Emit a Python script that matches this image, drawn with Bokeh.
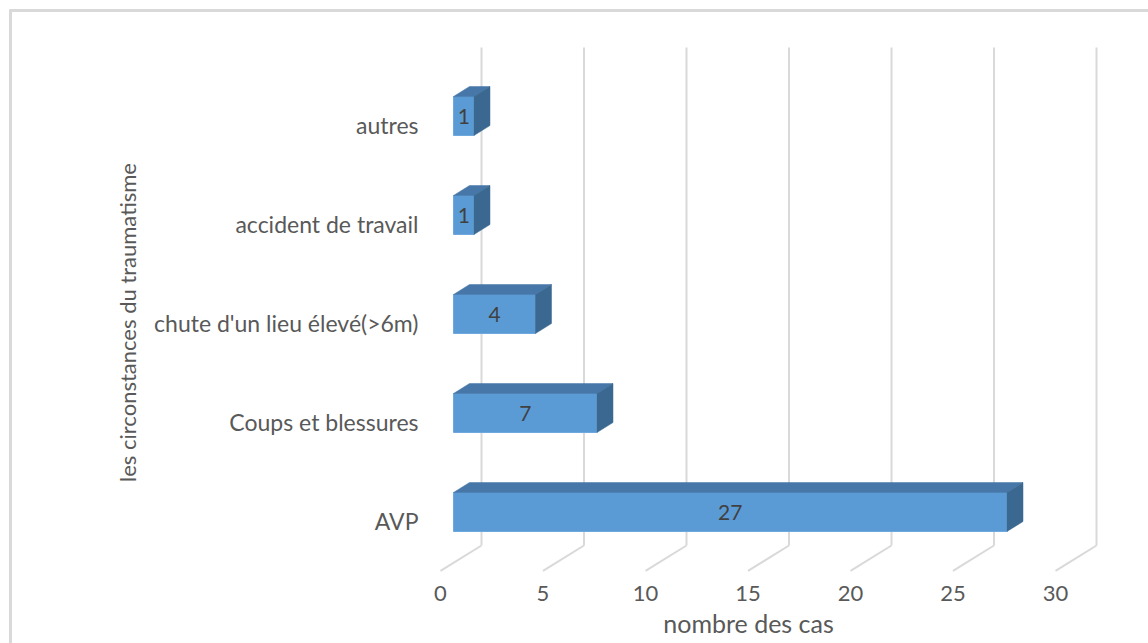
from bokeh.plotting import figure
from bokeh.models import Range1d, ColumnDataSource
from bokeh.core.properties import value
from bokeh.embed import file_html
from bokeh.resources import INLINE
import math

# --- data -------------------------------------------------------------
categories = ["AVP", "Coups et blessures", "chute d'un lieu élevé(>6m)",
              "accident de travail", "autres"]
counts = [27, 7, 4, 1, 1]
tick_values = [0, 5, 10, 15, 20, 25, 30]
tick_labels = ["0", "5", "10", "15", "20", "25", "30"]
x_title = "nombre des cas"
y_title = "les circonstances du traumatisme"

# --- geometry of the pseudo-3D drawing --------------------------------
W, H = 1148, 643
X0 = 453.0          # screen x of value 0 on the bars' front plane
PPU = 20.5          # pixels per count
YC0 = 511.5         # screen y of the first category centre
PPC = 99.0          # pixels between categories

def sx(px):  # screen x -> data x
    return (px - X0) / PPU

def sy(py):  # screen y -> data y
    return (YC0 - py) / PPC

def dxp(px):  # horizontal pixel offset in data units
    return px / PPU

def dyp(py):  # vertical pixel offset (upwards) in data units
    return py / PPC

BAR_HALF = dyp(19.5)
BAR_DX, BAR_DY = dxp(16), dyp(10)       # bar depth
BACK_DX = dxp(28)                       # back wall offset
FLOOR_DX, FLOOR_DY = dxp(-13), dyp(-8)  # front edge of floor
WALL_TOP, WALL_BOT = sy(47), sy(545)

FONT = value("Lato")

p = figure(width=W, height=H, output_backend="svg", toolbar_location=None,
           x_range=Range1d(sx(0), sx(W)), y_range=Range1d(sy(H), sy(0)),
           min_border=0, min_border_left=0, min_border_right=0,
           min_border_top=0, min_border_bottom=0)
p.axis.visible = False
p.grid.visible = False
p.outline_line_color = None
p.background_fill_color = "white"
p.border_fill_color = "white"

# chart area border (left and top edges)
p.line([sx(10), sx(10)], [sy(9), sy(H)], line_color="#d9d9d9", line_width=3)
p.line([sx(9), sx(W)], [sy(10), sy(10)], line_color="#d9d9d9", line_width=3)

# back wall gridlines and floor lines
grid_color = "#d9d9d9"
bx = [v + BACK_DX for v in tick_values]
p.segment(x0=bx, y0=[WALL_BOT] * len(bx), x1=bx, y1=[WALL_TOP] * len(bx),
          line_color=grid_color, line_width=2)
p.segment(x0=bx, y0=[WALL_BOT] * len(bx),
          x1=[v + FLOOR_DX for v in tick_values],
          y1=[WALL_BOT + FLOOR_DY - dyp(17.4)] * len(bx),
          line_color=grid_color, line_width=2)

# bars
ys = list(range(len(categories)))
front = ColumnDataSource(dict(y=ys, right=counts))
p.hbar(y="y", left=0, right="right", height=2 * BAR_HALF, source=front,
       fill_color="#5b9bd5", line_color="#6ea8dc", line_width=1)

top_xs, top_ys, side_xs, side_ys = [], [], [], []
for i, v in zip(ys, counts):
    t, b = i + BAR_HALF, i - BAR_HALF
    top_xs.append([0, v, v + BAR_DX, BAR_DX])
    top_ys.append([t, t, t + BAR_DY, t + BAR_DY])
    side_xs.append([v, v, v + BAR_DX, v + BAR_DX])
    side_ys.append([b, t, t + BAR_DY, b + BAR_DY])
p.patches(top_xs, top_ys, fill_color="#4677a8", line_color="#4677a8", line_width=0.5)
p.patches(side_xs, side_ys, fill_color="#3b6890", line_color="#3b6890", line_width=0.5)

# value labels on the bar fronts
p.text(x=[v / 2 for v in counts], y=ys, text=[str(v) for v in counts],
       text_font=FONT, text_font_size="21px", text_color="#404040",
       text_align="center", text_baseline="middle")

# category labels
p.text(x=[sx(418)] * len(categories), y=[i - dyp(8.5) for i in ys],
       text=categories, text_font=FONT, text_font_size="23px",
       text_color="#595959", text_align="right", text_baseline="middle")

# value axis tick labels
p.text(x=[v + FLOOR_DX for v in tick_values], y=[sy(593)] * len(tick_values),
       text=tick_labels, text_font=FONT, text_font_size="22px",
       text_color="#595959", text_align="center", text_baseline="middle")

# axis titles
p.text(x=[sx(748)], y=[sy(622)], text=[x_title], text_font=FONT,
       text_font_size="25px", text_color="#595959",
       text_align="center", text_baseline="middle")
p.text(x=[sx(127)], y=[sy(322)], text=[y_title], text_font=FONT,
       text_font_size="22px", text_color="#595959", angle=math.pi / 2,
       text_align="center", text_baseline="middle")

open("out.html", "w").write(file_html(p, INLINE))
